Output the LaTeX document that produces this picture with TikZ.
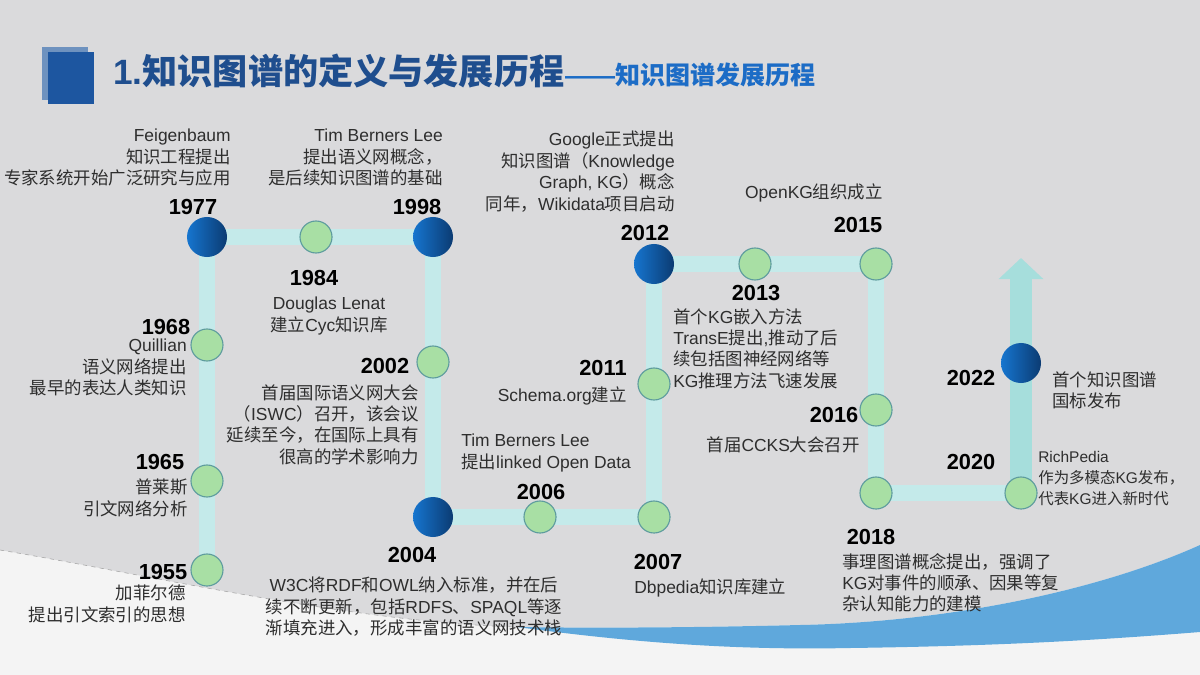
\documentclass[tikz,border=0pt]{standalone}
\usepackage{fontspec}
\setmainfont{Liberation Sans}
\newfontfamily\latinfont{Liberation Sans}
\newfontfamily\cjk{Noto Sans CJK SC}
\usetikzlibrary{arrows.meta, backgrounds}

% CJK characters switch to the CJK font, everything else stays in Liberation Sans
\XeTeXinterchartokenstate=1
\newXeTeXintercharclass\cjkclass
\newcount\cjkcnt
\cjkcnt="3000 \loop\ifnum\cjkcnt<"3040 \XeTeXcharclass\cjkcnt=\cjkclass \advance\cjkcnt by 1 \repeat
\cjkcnt="4E00 \loop\ifnum\cjkcnt<"A000 \XeTeXcharclass\cjkcnt=\cjkclass \advance\cjkcnt by 1 \repeat
\cjkcnt="FF00 \loop\ifnum\cjkcnt<"FF60 \XeTeXcharclass\cjkcnt=\cjkclass \advance\cjkcnt by 1 \repeat
\XeTeXinterchartoks 0 \cjkclass = {\cjk}
\XeTeXinterchartoks 4095 \cjkclass = {\cjk}
\XeTeXinterchartoks \cjkclass 0 = {\latinfont}
\XeTeXinterchartoks \cjkclass 4095 = {\latinfont}

\definecolor{bggray}{HTML}{DADADC}
\definecolor{bgwhite}{HTML}{F4F4F4}
\definecolor{swoosh}{HTML}{5FA8DC}
\definecolor{trackcol}{HTML}{C4EAEA}
\definecolor{arrowcol}{HTML}{A6DEDC}
\definecolor{dotgreen}{HTML}{A8DFA4}
\definecolor{dotring}{HTML}{5E9C9E}
\definecolor{blueA}{HTML}{1675CF}
\definecolor{blueB}{HTML}{0B3B72}
\definecolor{titleblue}{HTML}{1F4E8E}
\definecolor{subblue}{HTML}{1C6CC6}
\definecolor{sqlight}{HTML}{6E92BF}
\definecolor{sqdark}{HTML}{1D56A0}
\definecolor{txt}{HTML}{2E2E2E}

\begin{document}
\begin{tikzpicture}[
    x=0.025cm, y=-0.025cm,
    gdot/.style={circle, draw=dotring, line width=0.8pt, fill=dotgreen, minimum size=0.8cm, inner sep=0pt},
    bdot/.style={circle, left color=blueA, middle color=blueA, right color=blueB, minimum size=1cm, inner sep=0pt},
    yr/.style={font=\fontsize{15.5}{18}\selectfont\bfseries, text=black, inner sep=0pt},
    desc/.style={font=\fontsize{12.4}{15.2}\selectfont, text=txt, inner sep=0pt},
    track/.style={trackcol, line width=10.7pt},
    uparrow/.style={arrowcol, line width=15.6pt, -{Triangle[width=31pt,length=15pt]}}
  ]
    \useasboundingbox (0,0) rectangle (1200,675);

    % background
    \begin{scope}[on background layer]
        \fill[bgwhite] (0,0) rectangle (1200,675);
        \fill[bggray] (0,0) -- (1200,0) -- (1200,545)
            .. controls (1100,590) and (950,622) .. (800,625)
            .. controls (680,628) and (580,628) .. (517,627)
            .. controls (350,622) and (150,575) .. (0,550) -- cycle;
        \fill[swoosh] (517,627) .. controls (580,628) and (680,628) .. (800,625)
            .. controls (950,622) and (1100,590) .. (1200,545) -- (1200,632)
            .. controls (1100,640) and (1000,646) .. (850,648)
            .. controls (750,650) and (650,645) .. (517,627) -- cycle;
        \draw[gray!70, dashed, line width=0.4pt] (0,550) .. controls (150,575) and (350,622) .. (517,627);
    \end{scope}

    % title
    \fill[sqlight] (42,47) rectangle (88,100);
    \fill[sqdark] (48,52) rectangle (94,104);
    \node[anchor=base west, font=\fontsize{25}{28}\selectfont\bfseries, text=titleblue, inner sep=0pt] (title) at (113,85) {1.知识图谱的定义与发展历程};
    \node[anchor=base west, font=\fontsize{17.8}{20}\selectfont\bfseries, text=subblue, inner sep=0pt] (subtitle) at (title.base east) {——知识图谱发展历程};

    % milestones
    \node[gdot] (d1955) at (207,570) {};
    \node[gdot] (d1965) at (207,481) {};
    \node[gdot] (d1968) at (207,345) {};
    \node[bdot] (d1977) at (207,237) {};
    \node[gdot] (d1984) at (316,237) {};
    \node[bdot] (d1998) at (433,237) {};
    \node[gdot] (d2002) at (433,362) {};
    \node[bdot] (d2004) at (433,517) {};
    \node[gdot] (d2006) at (540,517) {};
    \node[gdot] (d2007) at (654,517) {};
    \node[gdot] (d2011) at (654,384) {};
    \node[bdot] (d2012) at (654,264) {};
    \node[gdot] (d2013) at (755,264) {};
    \node[gdot] (d2015) at (876,264) {};
    \node[gdot] (d2016) at (876,410) {};
    \node[gdot] (d2018) at (876,493) {};
    \node[gdot] (d2020) at (1021,493) {};
    \node[bdot] (d2022) at (1021,363) {};
    \coordinate (tip) at (1021,258);

    \begin{scope}[on background layer]
        \draw[track] (d1955.center) -- (d1977.center) -- (d1998.center) -- (d2004.center)
            -- (d2007.center) -- (d2012.center) -- (d2015.center) -- (d2018.center) -- (d2020.center);
        \draw[uparrow] (d2020.center) -- (tip);
    \end{scope}

    % years
    \node[yr] (y1977) at (193,207) {1977};
    \node[yr] (y1998) at (417,207) {1998};
    \node[yr] (y1984) at (314,278) {1984};
    \node[yr] (y1968) at (166,327) {1968};
    \node[yr] (y1965) at (160,462) {1965};
    \node[yr] (y1955) at (163,572) {1955};
    \node[yr] (y2002) at (385,366) {2002};
    \node[yr] (y2004) at (412,555) {2004};
    \node[yr] (y2006) at (541,492) {2006};
    \node[yr] (y2007) at (658,562) {2007};
    \node[yr] (y2011) at (603,368) {2011};
    \node[yr] (y2012) at (645,233) {2012};
    \node[yr] (y2013) at (756,293) {2013};
    \node[yr] (y2015) at (858,225) {2015};
    \node[yr] (y2016) at (834,415) {2016};
    \node[yr] (y2018) at (871,537) {2018};
    \node[yr] (y2020) at (971,462) {2020};
    \node[yr] (y2022) at (971,378) {2022};

    % descriptions
    \node[desc, anchor=north east, align=right] (t1977) at (231,129) {Feigenbaum\\知识工程提出\\专家系统开始广泛研究与应用};
    \node[desc, anchor=north east, align=right] (t1998) at (443,129) {Tim Berners Lee\\提出语义网概念，\\是后续知识图谱的基础};
    \node[desc, anchor=north, align=center] (t1984) at (329,297) {Douglas Lenat\\建立Cyc知识库};
    \node[desc, anchor=north east, align=right] (t1968) at (187,339) {Quillian\\语义网络提出\\最早的表达人类知识};
    \node[desc, anchor=north east, align=right] (t1965) at (188,479) {普莱斯\\引文网络分析};
    \node[desc, anchor=north east, align=right] (t1955) at (186,585) {加菲尔德\\提出引文索引的思想};
    \node[desc, anchor=north east, align=right] (t2002) at (419,384) {首届国际语义网大会\\（ISWC）召开，该会议\\延续至今，在国际上具有\\很高的学术影响力};
    \node[desc, anchor=north, align=center] (t2004) at (414,577) {W3C将RDF和OWL纳入标准，并在后\\续不断更新，包括RDFS、SPAQL等逐\\渐填充进入，形成丰富的语义网技术栈};
    \node[desc, anchor=north west, align=left] (t2006) at (461,434) {Tim Berners Lee\\提出linked Open Data};
    \node[desc, anchor=north west] (t2007) at (634,578) {Dbpedia知识库建立};
    \node[desc, anchor=north east] (t2011) at (627,386) {Schema.org建立};
    \node[desc, anchor=north east, align=right] (t2012) at (675,131) {Google正式提出\\知识图谱（Knowledge\\Graph, KG）概念\\同年，Wikidata项目启动};
    \node[desc, anchor=north west, align=left] (t2013) at (673,308) {首个KG嵌入方法\\TransE提出,推动了后\\续包括图神经网络等\\KG推理方法飞速发展};
    \node[desc, anchor=north east] (t2015) at (883,183) {OpenKG组织成立};
    \node[desc, anchor=north east] (t2016) at (860,436) {首届CCKS大会召开};
    \node[desc, anchor=north west, align=left] (t2018) at (842,553) {事理图谱概念提出，强调了\\KG对事件的顺承、因果等复\\杂认知能力的建模};
    \node[desc, anchor=north west, align=left, font=\fontsize{11}{14.8}\selectfont] (t2020) at (1038,451) {RichPedia\\作为多模态KG发布，\\代表KG进入新时代};
    \node[desc, anchor=north west, align=left] (t2022) at (1052,371) {首个知识图谱\\国标发布};
\end{tikzpicture}
\end{document}
